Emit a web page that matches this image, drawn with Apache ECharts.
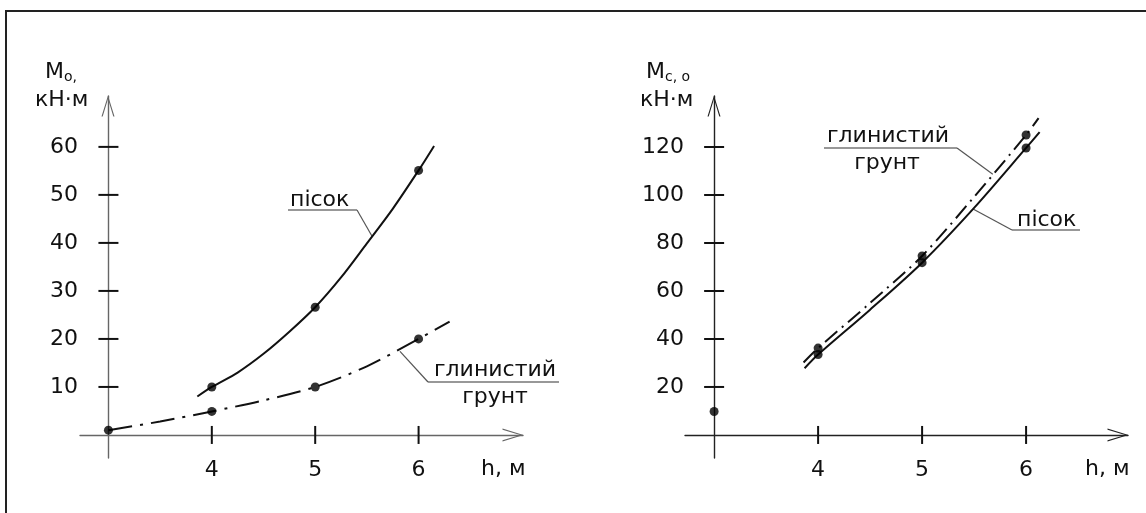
<!DOCTYPE html>
<html>
<head>
<meta charset="utf-8">
<script src="https://cdn.jsdelivr.net/npm/echarts@6/dist/echarts.min.js"></script>
<style>
  html, body { margin: 0; background: #fff; }
  #chart { width: 1146px; height: 513px; }
</style>
</head>
<body>
<div id="chart"></div>
<script>
// left plot: M_o, kN·m
const leftTicksX = [4, 5, 6]
const leftTicksY = [10, 20, 30, 40, 50, 60]
const leftSandPoints = [[4, 10], [5, 26.6], [6, 55.1]]
const leftSandCurve = [
  [3.86, 8.0], [4, 10], [4.25, 13.0], [4.5, 16.9], [4.75, 21.5], [5, 26.6],
  [5.25, 32.8], [5.5, 39.9], [5.75, 47.1], [6, 55.1], [6.15, 60.2]
]
const leftClayPoints = [[3, 1], [4, 4.9], [5, 10], [6, 20]]
const leftClayCurve = [[3, 1], [3.5, 2.8], [4, 4.9], [4.5, 7.2], [5, 10], [5.5, 14.3], [6, 20], [6.3, 23.6]]

// right plot: M_c,o, kN·m
const rightTicksX = [4, 5, 6]
const rightTicksY = [20, 40, 60, 80, 100, 120]
const rightSandPoints = [[4, 33.5], [5, 71.8], [6, 119.6]]
const rightSandCurve = [[3.87, 27.8], [4, 33.5], [4.5, 52.2], [5, 71.8], [5.5, 94.6], [6, 119.6], [6.13, 126.2]]
const rightClayPoints = [[4, 36.2], [5, 74.6], [6, 125]]
const rightClayCurve = [[3.86, 30.2], [4, 36.2], [4.5, 55.0], [5, 74.6], [5.5, 99.2], [6, 125], [6.12, 132]]
const rightOriginPoints = [[3, 9.8]]

const H0 = 3 // h at the origin of both plots
const FONT = 'DejaVu Sans'
const INK = '#111'
const arrowPath = 'path://M6.5,0L13,21L11.8,21L6.5,3.5L1.2,21L0,21Z'

const chart = echarts.init(document.getElementById('chart'))

// the axes sit on the origin (h = 3, M = 0), not on the grid edge
const makeX = (grid, min, max, offset, ticks, color) => ({
  type: 'value', gridIndex: grid, min, max, offset,
  axisLine: {
    onZero: false,
    lineStyle: { color, width: 1.4 },
    symbol: ['none', arrowPath], symbolSize: [13, 21], symbolOffset: [0, -10]
  },
  axisTick: { show: false },
  axisLabel: { customValues: ticks, margin: 24, fontSize: 22, color: INK, fontFamily: FONT },
  splitLine: { show: false }
})

const makeY = (grid, min, max, offset, ticks, color) => ({
  type: 'value', gridIndex: grid, min, max, offset,
  axisLine: {
    onZero: false,
    lineStyle: { color, width: 1.4 },
    symbol: ['none', arrowPath], symbolSize: [13, 21], symbolOffset: [0, -10]
  },
  axisTick: { show: false },
  axisLabel: { customValues: ticks, margin: 30, fontSize: 22, color: INK, fontFamily: FONT },
  splitLine: { show: false }
})

// tick marks that cross the axis line on both sides
const crossTicks = (axis, ticksX, ticksY) => ({
  type: 'custom', xAxisIndex: axis, yAxisIndex: axis, silent: true, clip: false, z: 3,
  data: ticksX.map(v => [v, 0, 0]).concat(ticksY.map(v => [H0, v, 1])),
  renderItem: (params, api) => {
    const p = api.coord([api.value(0), api.value(1)])
    const vertical = api.value(2) === 0
    return {
      type: 'line',
      shape: vertical
        ? { x1: p[0], y1: p[1] - 9, x2: p[0], y2: p[1] + 9 }
        : { x1: p[0] - 10, y1: p[1], x2: p[0] + 10, y2: p[1] },
      style: { stroke: INK, lineWidth: 2 }
    }
  }
})

const curve = (axis, data, dashed) => ({
  type: 'line', xAxisIndex: axis, yAxisIndex: axis, data,
  smooth: 0.3, showSymbol: false, silent: true, clip: false,
  lineStyle: { color: INK, width: 2, type: dashed || 'solid' }
})

const dots = (axis, data) => ({
  type: 'scatter', xAxisIndex: axis, yAxisIndex: axis, data,
  symbolSize: 9, itemStyle: { color: '#000' }, silent: true, z: 4
})

const txt = (x, y, text, align) => ({
  type: 'text', x, y,
  style: { text, fontSize: 22, fontFamily: FONT, fill: INK, align: align || 'left', verticalAlign: 'middle' }
})

const axisTitle = (x, y, sub) => ({
  type: 'text', x, y,
  style: {
    text: '{m|M}{s|' + sub + '}',
    fontFamily: FONT, fill: INK, verticalAlign: 'middle',
    rich: {
      m: { fontSize: 22, lineHeight: 24, fontFamily: FONT },
      s: { fontSize: 14, lineHeight: 14, verticalAlign: 'bottom', fontFamily: FONT }
    }
  }
})

chart.setOption({
  animation: false,
  backgroundColor: '#fff',
  grid: [
    { left: 80, right: 623, top: 96, bottom: 55 },
    { left: 685, right: 18, top: 96, bottom: 55 }
  ],
  xAxis: [
    makeX(0, 2.725, 7.01, -23, leftTicksX, '#666'),
    makeX(1, 2.72, 6.98, -23, rightTicksX, '#222')
  ],
  yAxis: [
    makeY(0, -4.8, 70.6, -28, leftTicksY, '#666'),
    makeY(1, -9.6, 141.25, -29, rightTicksY, '#222')
  ],
  series: [
    crossTicks(0, leftTicksX, leftTicksY),
    curve(0, leftSandCurve),
    curve(0, leftClayCurve, [24, 8, 3, 8]),
    dots(0, leftSandPoints),
    dots(0, leftClayPoints),
    crossTicks(1, rightTicksX, rightTicksY),
    curve(1, rightSandCurve),
    curve(1, rightClayCurve, [16, 6, 2, 6]),
    dots(1, rightSandPoints),
    dots(1, rightClayPoints),
    dots(1, rightOriginPoints)
  ]
})

// annotation labels with a leader line to a point on the curve
const notes = [
  { axis: 0, at: [5.55, 41.4], lines: [['пісок', 290, 200, 'left']], under: [288, 357, 210], from: [357, 210] },
  { axis: 0, at: [5.82, 17.4], lines: [['глинистий', 434, 370, 'left'], ['грунт', 495, 397, 'center']], under: [428, 559, 382], from: [428, 382] },
  { axis: 1, at: [5.68, 108.6], lines: [['глинистий', 827, 136, 'left'], ['грунт', 887, 163, 'center']], under: [824, 957, 148], from: [957, 148] },
  { axis: 1, at: [5.49, 94.2], lines: [['пісок', 1017, 220, 'left']], under: [1012, 1080, 230], from: [1012, 230] }
]

const graphics = [
  // frame (top and left edges only)
  { type: 'polyline', shape: { points: [[6, 513], [6, 11], [1146, 11]] }, style: { stroke: '#222', lineWidth: 2, fill: null } },
  axisTitle(45, 72, 'о,'),
  txt(35, 100, 'кН·м'),
  axisTitle(646, 72, 'с, о'),
  txt(640, 100, 'кН·м'),
  txt(481, 469, 'h, м'),
  txt(1085, 469, 'h, м')
]

notes.forEach(n => {
  const p = chart.convertToPixel({ xAxisIndex: n.axis, yAxisIndex: n.axis }, n.at)
  n.lines.forEach(([t, x, y, a]) => graphics.push(txt(x, y, t, a)))
  graphics.push({ type: 'line', shape: { x1: n.under[0], y1: n.under[2], x2: n.under[1], y2: n.under[2] }, style: { stroke: '#333', lineWidth: 1.2 } })
  graphics.push({ type: 'line', shape: { x1: n.from[0], y1: n.from[1], x2: p[0], y2: p[1] }, style: { stroke: '#555', lineWidth: 1.2 } })
})

chart.setOption({ graphic: graphics })

window.addEventListener('resize', () => chart.resize())
</script>
</body>
</html>
